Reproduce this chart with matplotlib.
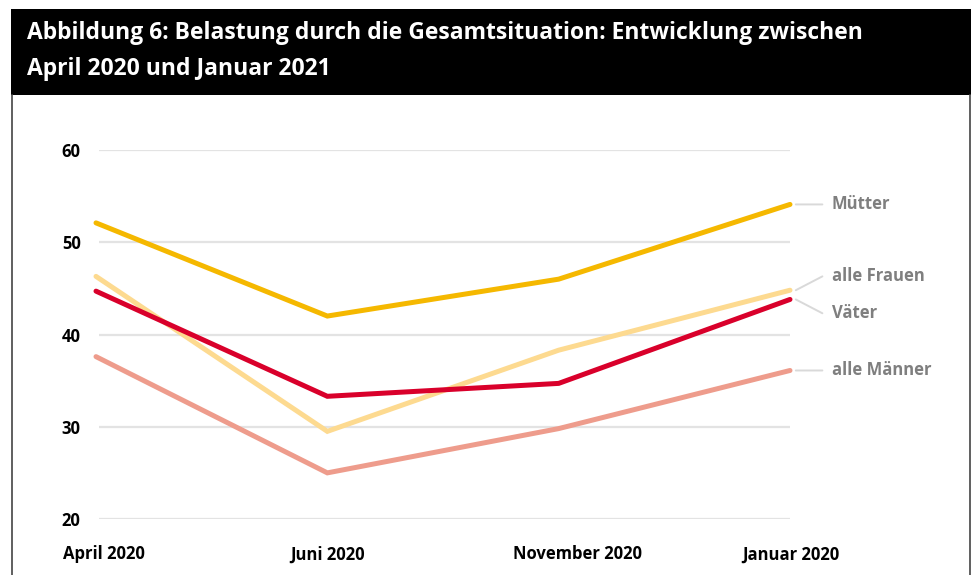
import matplotlib
matplotlib.use("Agg")
import matplotlib.pyplot as plt
from matplotlib.patches import Rectangle
from matplotlib.lines import Line2D
from matplotlib.transforms import ScaledTranslation

plt.rcParams['font.family'] = ['Open Sans', 'DejaVu Sans']

categories = ["April 2020", "Juni 2020", "November 2020", "Januar 2020"]
series_names = ["Mütter", "alle Frauen", "Väter", "alle Männer"]
muetter = [52.1, 42.0, 46.0, 54.1]
alle_frauen = [46.3, 29.5, 38.3, 44.8]
vaeter = [44.7, 33.3, 34.7, 43.8]
alle_maenner = [37.6, 25.0, 29.8, 36.1]
y_ticks = [20, 30, 40, 50, 60]
title = "Abbildung 6: Belastung durch die Gesamtsituation: Entwicklung zwischen\nApril 2020 und Januar 2021"

colors = ["#F5B800", "#FDDA90", "#D9002B", "#EE9C8C"]
series = [muetter, alle_frauen, vaeter, alle_maenner]
label_y = [54.1, 46.3, 42.3, 36.1]
xlabel_shift_px = [8, 0, 19, 1]

W, H = 971, 575
fig = plt.figure(figsize=(W / 100, H / 100), dpi=100)

def fx(px):
    return px / W

def fy(py):
    return 1 - py / H

# title bar
fig.patches.append(Rectangle((fx(11), fy(95)), fx(960), 86 / H, transform=fig.transFigure,
                             facecolor="black", edgecolor="none", zorder=0))
fig.text(fx(27), fy(33), title.split("\n")[0], color="white", fontsize=16.5, fontweight="bold",
         va="center", ha="left")
fig.text(fx(27), fy(69), title.split("\n")[1], color="white", fontsize=16.5, fontweight="bold",
         va="center", ha="left")
# side borders
fig.lines.append(Line2D([fx(12), fx(12)], [0, fy(95)], transform=fig.transFigure, color="#444444", lw=1.2))
fig.lines.append(Line2D([fx(969.5), fx(969.5)], [0, fy(95)], transform=fig.transFigure, color="#444444", lw=1.2))

ax = fig.add_axes([fx(96), fy(519), fx(790 - 96), (519 - 150) / H])
ax.set_xlim(0, len(categories) - 1)
ax.set_ylim(20, 60)
for s in ax.spines.values():
    s.set_visible(False)

for yv in y_ticks:
    ax.hlines(yv, 0.015, len(categories) - 1, color="#e3e3e3", lw=1.6, zorder=1)

x = list(range(len(categories)))
for vals, c in zip(series, colors):
    ax.plot(x, vals, color=c, lw=3.6, solid_capstyle="round", solid_joinstyle="miter",
            clip_on=False, zorder=3)

ax.set_yticks(y_ticks)
ax.set_yticklabels([str(v) for v in y_ticks], fontsize=12, fontweight="bold", color="black")
ax.set_xticks(x)
ax.set_xticklabels(categories, fontsize=12, fontweight="bold", color="black")
ax.tick_params(axis="y", length=0, pad=11)
ax.tick_params(axis="x", length=0, pad=19)
for lbl, sh in zip(ax.get_xticklabels(), xlabel_shift_px):
    lbl.set_transform(lbl.get_transform() + ScaledTranslation(sh / 100, 0, fig.dpi_scale_trans))

# right labels with connectors
for name, vals, ly in zip(series_names, series, label_y):
    last = vals[-1]
    ax.annotate("", xy=(3.025, last), xytext=(3.14, ly), annotation_clip=False,
                arrowprops=dict(arrowstyle="-", color="#d9d9d9", lw=1.4, shrinkA=0, shrinkB=0))
    ax.text(3.18, ly, name, color="#7f7f7f", fontsize=12, fontweight="bold", va="center", ha="left",
            clip_on=False)

fig.savefig("out.png", dpi=100, facecolor="white")
